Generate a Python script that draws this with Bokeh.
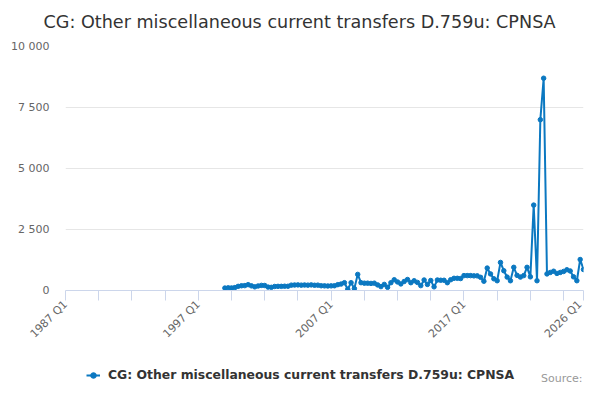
from bokeh.plotting import figure
from bokeh.layouts import column
from bokeh.models import Range1d, FixedTicker, Legend, LegendItem, ColumnDataSource, Label, Title
from bokeh.embed import file_html
from bokeh.resources import INLINE

FONT = "DejaVu Sans"

title_text = "CG: Other miscellaneous current transfers D.759u: CPNSA"
series_name = "CG: Other miscellaneous current transfers D.759u: CPNSA"
credits_text = "Source:"

# all quarter categories on the axis: 1987 Q1 .. 2026 Q1
quarters = [f"{y} Q{q}" for y in range(1987, 2027) for q in (1, 2, 3, 4)][:157]

first_quarter = "1999 Q1"
values = [
    100, 110, 105, 120,      # 1999
    170, 195, 200, 240,      # 2000
    190, 150, 185, 210,      # 2001
    205, 140, 130, 165,      # 2002
    170, 170, 175, 175,      # 2003
    220, 225, 230, 220,      # 2004
    225, 220, 230, 215,      # 2005
    220, 195, 190, 185,      # 2006
    190, 195, 240, 265,      # 2007
    320, 50, 320, 80,        # 2008
    660, 320, 300, 300,      # 2009
    290, 300, 230, 160,      # 2010
    250, 130, 320, 440,      # 2011
    350, 270, 370, 450,      # 2012
    320, 400, 330, 200,      # 2013
    430, 250, 410, 150,      # 2014
    430, 420, 420, 320,      # 2015
    440, 500, 500, 490,      # 2016
    610, 610, 610, 600,      # 2017
    600, 540, 380, 920,      # 2018
    680, 480, 400, 1150,     # 2019
    810, 550, 400, 950,      # 2020
    620, 550, 610, 950,      # 2021
    560, 3500, 400, 7000,    # 2022
    8700, 680, 740, 790,     # 2023
    700, 740, 780, 850,      # 2024
    800, 560, 400, 1270,     # 2025
    860,                     # 2026 Q1
]

x_tick_labels = ["1987 Q1", "1997 Q1", "2007 Q1", "2017 Q1", "2026 Q1"]
x_tick_step = 10
y_ticks = [0, 2500, 5000, 7500, 10000]
y_tick_labels = ["0", "2 500", "5 000", "7 500", "10 000"]

start = quarters.index(first_quarter)
xs = [start + k for k in range(len(values))]
labels = [quarters[i] for i in xs]
src = ColumnDataSource(dict(x=xs, y=values, q=labels))

LINE = "#0b78c1"

# ---------------- main chart ----------------
p = figure(width=584, height=348, output_backend="svg", toolbar_location=None,
           x_range=Range1d(0, len(quarters) - 1), y_range=Range1d(y_ticks[0], y_ticks[-1]),
           min_border_left=65, min_border_right=1, min_border_top=46, min_border_bottom=51)
p.outline_line_color = None
p.background_fill_color = "white"
p.border_fill_color = "white"

p.line("x", "y", source=src, line_color=LINE, line_width=2)
p.scatter("x", "y", source=src, size=4.5, fill_color=LINE, line_color=LINE)

xticks = list(range(0, len(quarters), x_tick_step)) + [len(quarters) - 1]
overrides = {}
for t in xticks:
    overrides[t] = quarters[t] if quarters[t] in x_tick_labels else ""
xa = p.xaxis[0]
xa.ticker = FixedTicker(ticks=xticks, minor_ticks=[])
xa.major_label_overrides = overrides
xa.major_label_orientation = 0.785398
xa.axis_line_color = "#ccd6eb"
xa.major_tick_line_color = "#ccd6eb"
xa.major_tick_out = 10
xa.major_tick_in = 0
xa.minor_tick_line_color = None
xa.major_label_text_font = FONT
xa.major_label_text_font_size = "11px"
xa.major_label_text_color = "#666666"
xa.major_label_standoff = 2

ya = p.yaxis[0]
ya.ticker = FixedTicker(ticks=y_ticks, minor_ticks=[])
ya.major_label_overrides = {t: l for t, l in zip(y_ticks, y_tick_labels)}
ya.axis_line_color = None
ya.major_tick_line_color = None
ya.minor_tick_line_color = None
ya.major_tick_out = 0
ya.major_tick_in = 0
ya.major_label_standoff = 16
ya.major_label_text_font = FONT
ya.major_label_text_font_size = "11px"
ya.major_label_text_color = "#666666"

p.xgrid.grid_line_color = None
p.ygrid.grid_line_color = "#e6e6e6"
p.ygrid.grid_line_width = 1

p.title.text = title_text
p.title.align = "left"
p.title.offset = -22
p.title.vertical_align = "top"
p.title.standoff = 18
p.title.text_font = FONT
p.title.text_font_size = "17.6px"
p.title.text_font_style = "normal"
p.title.text_color = "#333333"
# thin spacer between title and plot area, lifts the title to the top edge
p.add_layout(Title(text=" ", text_font_size="2px", standoff=0), "above")

# ---------------- legend + credits strip ----------------
p2 = figure(width=584, height=36, output_backend="svg", toolbar_location=None,
            x_range=Range1d(0, 1), y_range=Range1d(0, 1),
            x_axis_type=None, y_axis_type=None,
            min_border_left=0, min_border_right=0, min_border_top=0, min_border_bottom=0)
p2.outline_line_color = None
p2.xgrid.grid_line_color = None
p2.ygrid.grid_line_color = None
p2.border_fill_color = "white"
p2.background_fill_color = "white"

# legend sample renderers (data lies outside this strip's ranges, so only the key shows)
k_line = p2.line("x", "y", source=src, line_color=LINE, line_width=2)
k_pts = p2.scatter("x", "y", source=src, size=4.5, fill_color=LINE, line_color=LINE)

legend = Legend(items=[LegendItem(label=series_name, renderers=[k_line, k_pts])],
                location=(21, 2), orientation="horizontal",
                padding=0, margin=0, spacing=0, glyph_width=14, glyph_height=14,
                label_height=14, label_standoff=8,
                label_text_font=FONT, label_text_font_size="12.4px",
                label_text_font_style="bold", label_text_color="#333333",
                background_fill_alpha=0, border_line_color=None)
p2.add_layout(legend, "center")

p2.add_layout(Label(x=517, y=6, x_units="screen", y_units="screen", text=credits_text,
                    text_align="right", text_baseline="middle", text_font=FONT,
                    text_font_size="11px", text_color="#999999"))

layout = column(p, p2, spacing=0)
open("out.html", "w").write(file_html(layout, INLINE))
